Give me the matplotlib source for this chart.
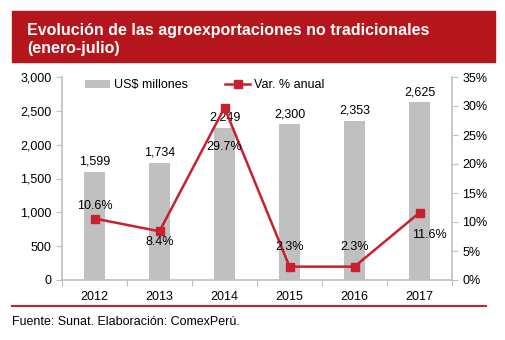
import matplotlib
matplotlib.use("Agg")
import matplotlib.pyplot as plt
from matplotlib.patches import Rectangle
from matplotlib.lines import Line2D

plt.rcParams['font.family'] = ['Liberation Sans', 'DejaVu Sans']

years = ["2012", "2013", "2014", "2015", "2016", "2017"]
usd = [1599, 1734, 2249, 2300, 2353, 2625]
var_pct = [10.6, 8.4, 29.7, 2.3, 2.3, 11.6]
usd_labels = ["1,599", "1,734", "2,249", "2,300", "2,353", "2,625"]
pct_labels = ["10.6%", "8.4%", "29.7%", "2.3%", "2.3%", "11.6%"]
left_ticks = [0, 500, 1000, 1500, 2000, 2500, 3000]
right_ticks = [0, 5, 10, 15, 20, 25, 30, 35]

W, H = 505, 340
fig = plt.figure(figsize=(W/100, H/100), dpi=100)
fig.patch.set_facecolor('white')

RED = '#B5161B'
LINE = '#C8202F'
GRAY = '#C0C0C0'
AX = '#BFBFBF'

# title banner
fig.patches.append(Rectangle((12/W, 1-62/H), (495-12)/W, (62-11)/H,
                             transform=fig.transFigure, color=RED, zorder=0))
fig.text(27/W, 1-30/H, "Evolución de las agroexportaciones no tradicionales",
         color='white', fontsize=11.5, fontweight='bold', va='center', ha='left')
fig.text(27/W, 1-49/H, "(enero-julio)",
         color='white', fontsize=11.5, fontweight='bold', va='center', ha='left')

# bottom line
fig.add_artist(Line2D([12/W, 486/W], [1-306/H, 1-306/H], color='#C8202F', lw=1.5,
                      transform=fig.transFigure))
fig.text(12/W, 1-322/H, "Fuente: Sunat. Elaboración: ComexPerú.", fontsize=9,
         va='center', ha='left', color='black')

ax = fig.add_axes([62/W, 1-280/H, (452-62)/W, (280-77)/H])
x = list(range(len(years)))
ax.bar(x, usd, width=0.32, color=GRAY, label='US$ millones', zorder=2)
ax.set_xlim(-0.5, 5.5)
ax.set_ylim(0, 3000)
ax.set_yticks(left_ticks)
ax.set_yticklabels([f"{t:,}" for t in left_ticks])
ax.set_xticks([i - 0.5 for i in range(len(years)+1)])
ax.set_xticklabels([])
ax.set_xticks(x, minor=True)
ax.set_xticklabels(years, minor=True)
ax.tick_params(axis='x', which='minor', length=0, labelsize=9, pad=8)
ax.tick_params(axis='x', which='major', length=4, color=AX, direction='out')
ax.tick_params(axis='y', length=4, color=AX, labelsize=9, direction='out')
for s in ['top', 'right']:
    ax.spines[s].set_visible(False)
ax.spines['left'].set_color(AX)
ax.spines['bottom'].set_color(AX)
ax.spines['left'].set_linewidth(1.2)
ax.spines['bottom'].set_linewidth(1.2)

for i, (v, l) in enumerate(zip(usd, usd_labels)):
    ax.text(i, v + 60, l, ha='center', va='bottom', fontsize=9)

ax2 = ax.twinx()
ax2.set_ylim(0, 35)
ax2.set_yticks(right_ticks)
ax2.set_yticklabels([f"{t}%" for t in right_ticks])
ax2.tick_params(axis='y', length=4, color=AX, labelsize=9, direction='out')
for s in ['top', 'left', 'bottom']:
    ax2.spines[s].set_visible(False)
ax2.spines['right'].set_color(AX)
ax2.spines['right'].set_linewidth(1.2)
ax2.plot(x, var_pct, color=LINE, lw=1.8, marker='s', markersize=6,
         label='Var. % anual', zorder=3)

# label offsets in pixels (dx, dy); positive dy = up
offsets = [(0, 13), (0, -11), (0, -39), (0, 20), (0, 20), (10, -22)]
for i, (v, l) in enumerate(zip(var_pct, pct_labels)):
    dx, dy = offsets[i]
    ax2.annotate(l, (i, v), xytext=(dx * 0.72, dy * 0.72), textcoords='offset points',
                 ha='center', va='center', fontsize=9)

h1, l1 = ax.get_legend_handles_labels()
h2, l2 = ax2.get_legend_handles_labels()
leg = ax.legend(h1 + h2, l1 + l2, loc='upper left', bbox_to_anchor=(0.04, 1.025),
                ncol=2, frameon=False, fontsize=9, columnspacing=3.0,
                handlelength=2.0, handletextpad=0.3, borderaxespad=0.2)

fig.savefig("out.png", dpi=100, facecolor='white')
